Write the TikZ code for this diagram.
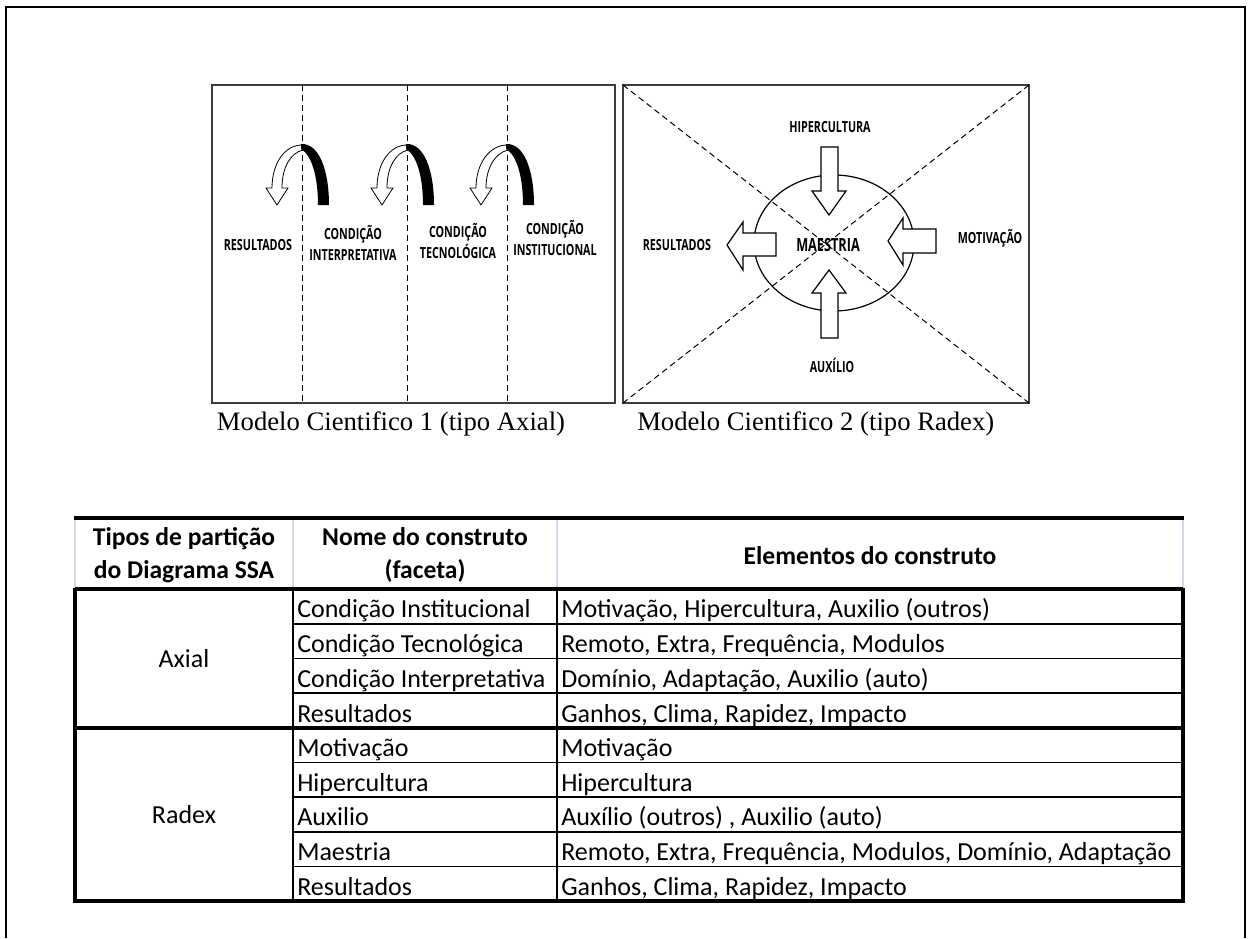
\documentclass[tikz,border=0pt]{standalone}
\usepackage{fontspec}
\setmainfont{Liberation Serif}
\newfontfamily\tabfont{Carlito}
\newfontfamily\diafont{Open Sans}
\begin{document}
\begin{tikzpicture}[x=0.75pt,y=0.75pt,yscale=-1,xscale=1,
    lbl/.style={font=\diafont\bfseries\fontsize{11.5}{16.3}\selectfont, align=center, inner sep=0pt, xscale=0.7},
    legenda/.style={font=\fontsize{20}{24}\selectfont, inner sep=0pt},
    cell/.style={font=\tabfont\fontsize{19.5}{23}\selectfont, anchor=base west, inner sep=0pt},
    hcell/.style={font=\tabfont\bfseries\fontsize{19.2}{24.6}\selectfont, align=center, inner sep=0pt},
    blockarrow/.style={draw, fill=white, line width=0.9pt, line join=miter},
    sep/.style={dash pattern=on 4.5pt off 3pt, line width=0.75pt},
    thickrule/.style={line width=2.4pt},
    thinrule/.style={line width=1.2pt}]
        \useasboundingbox (0,0) rectangle (1248,938);

        %Frame
        \draw [line width=1.5pt]  (6,938) -- (6,7) -- (1245,7) -- (1245,938) ;

        %Shape: Rectangle - modelo axial
        \draw [color={rgb, 255:red, 60; green, 60; blue, 60 }, line width=1.2pt]  (212,85) rectangle (615,403) ;
        %Straight Lines - particoes
        \draw [sep]  (302,85) -- (302,403) ;
        \draw [sep]  (407,85) -- (407,403) ;
        \draw [sep]  (507,85) -- (507,403) ;

        %Curved Arrow 1
        \draw [fill=white, line width=0.6pt]  (302,145) .. controls (285,145) and (272,163) .. (272,188) -- (266,188) -- (277,205) -- (288,188) -- (282,188) .. controls (282,168) and (290,153) .. (303,150) -- cycle ;
        \fill  (301,144) .. controls (319,143) and (329,170) .. (329,205) -- (318,205) .. controls (318,180) and (313,156) .. (301,149) -- cycle ;
        %Curved Arrow 2
        \draw [fill=white, line width=0.6pt]  (407,145) .. controls (390,145) and (377,163) .. (377,188) -- (371,188) -- (382,205) -- (393,188) -- (387,188) .. controls (387,168) and (395,153) .. (408,150) -- cycle ;
        \fill  (406,144) .. controls (424,143) and (434,170) .. (434,205) -- (423,205) .. controls (423,180) and (418,156) .. (406,149) -- cycle ;
        %Curved Arrow 3
        \draw [fill=white, line width=0.6pt]  (507,145) .. controls (490,145) and (476,163) .. (476,188) -- (470,188) -- (481,205) -- (492,188) -- (486,188) .. controls (486,168) and (495,153) .. (508,150) -- cycle ;
        \fill  (506,144) .. controls (524,143) and (534,170) .. (534,205) -- (523,205) .. controls (523,180) and (518,156) .. (506,149) -- cycle ;

        % Text Node
        \draw (258,245) node (resAxial) [lbl] {RESULTADOS};
        % Text Node
        \draw (353,243) node (condInterp) [lbl] {CONDIÇÃO\\INTERPRETATIVA};
        % Text Node
        \draw (458,241) node (condTecno) [lbl] {CONDIÇÃO\\TECNOLÓGICA};
        % Text Node
        \draw (555,238) node (condInst) [lbl] {CONDIÇÃO\\INSTITUCIONAL};

        %Shape: Rectangle - modelo radex
        \draw [color={rgb, 255:red, 60; green, 60; blue, 60 }, line width=1.2pt]  (623,85) rectangle (1029,403) ;
        %Straight Lines - diagonais
        \draw [sep]  (623,85) -- (1029,403) ;
        \draw [sep]  (1029,85) -- (623,403) ;
        %Shape: Ellipse
        \draw [line width=0.9pt]  (834,243) ellipse (80 and 68) ;

        %Shape: Down Arrow
        \draw [blockarrow]  (821,147) -- (838,147) -- (838,191) -- (846,191) -- (829,215) -- (812,191) -- (821,191) -- cycle ;
        %Shape: Up Arrow
        \draw [blockarrow]  (821,338) -- (838,338) -- (838,293) -- (846,293) -- (829,270) -- (812,293) -- (821,293) -- cycle ;
        %Shape: Left Arrow - resultados
        \draw [blockarrow]  (776,233) -- (776,256) -- (743,256) -- (743,270) -- (727,245) -- (743,222) -- (743,233) -- cycle ;
        %Shape: Left Arrow - motivacao
        \draw [blockarrow]  (936,229) -- (936,253) -- (903,253) -- (903,265) -- (888,241) -- (903,218) -- (903,229) -- cycle ;

        % Text Node
        \draw (830,127) node (hiper) [lbl] {HIPERCULTURA};
        % Text Node
        \draw (677,245) node (resRadex) [lbl] {RESULTADOS};
        % Text Node
        \draw (828,245) node (maestria) [lbl, font=\diafont\bfseries\fontsize{13.6}{16}\selectfont, xscale=1.0] {MAESTRIA};
        % Text Node
        \draw (990,238) node (motiv) [lbl] {MOTIVAÇÃO};
        % Text Node
        \draw (832,365) node (auxilio) [lbl] {AUXÍLIO};

        % Text Node
        \draw (391,424) node (legAxial) [legenda] {Modelo Cientifico 1 (tipo Axial)};
        % Text Node
        \draw (637,424) node (legRadex) [legenda, anchor=west] {Modelo Cientifico 2 (tipo Radex)};

        %Table - header grid
        \draw [color={rgb, 255:red, 208; green, 215; blue, 229 }, line width=1pt]  (75,518) -- (75,589) (293,518) -- (293,589) (557,518) -- (557,589) (1183,518) -- (1183,589) ;
        %Table - rules
        \draw [thickrule]  (73.8,518) -- (1184.2,518) ;
        \draw [thickrule]  (75,589) -- (1183,589) ;
        \draw [thickrule]  (75,728) -- (1183,728) ;
        \draw [thickrule]  (75,588) -- (75,901) -- (1183,901) -- (1183,588) ;
        \draw [thinrule]  (293,589) -- (293,901) (557,589) -- (557,901) ;
        \draw [thinrule]  (293,623.75) -- (1183,623.75) (293,658.5) -- (1183,658.5) (293,693.25) -- (1183,693.25) ;
        \draw [thinrule]  (293,762.6) -- (1183,762.6) (293,797.2) -- (1183,797.2) (293,831.8) -- (1183,831.8) (293,866.4) -- (1183,866.4) ;

        % Text Node
        \draw (184,555) node (tipos) [hcell] {Tipos de partição\\do Diagrama SSA};
        % Text Node
        \draw (425,555) node (nome) [hcell] {Nome do construto\\(faceta)};
        % Text Node
        \draw (870,556) node (elementos) [hcell] {Elementos do construto};

        % Text Node
        \draw (184,659) node (axial) [cell, anchor=center] {Axial};
        \draw (297,617.7) node (cInst) [cell] {Condição Institucional};
        \draw (561,617.7) node (eInst) [cell] {Motivação, Hipercultura, Auxilio (outros)};
        \draw (297,652.5) node (cTec) [cell] {Condição Tecnológica};
        \draw (561,652.5) node (eTec) [cell] {Remoto, Extra, Frequência, Modulos};
        \draw (297,687.2) node (cInt) [cell] {Condição Interpretativa};
        \draw (561,687.2) node (eInt) [cell] {Domínio, Adaptação, Auxilio (auto)};
        \draw (297,722) node (cRes) [cell] {Resultados};
        \draw (561,722) node (eRes) [cell] {Ganhos, Clima, Rapidez, Impacto};

        % Text Node
        \draw (184,815) node (radex) [cell, anchor=center] {Radex};
        \draw (297,756.7) node (rMot) [cell] {Motivação};
        \draw (561,756.7) node (eMot) [cell] {Motivação};
        \draw (297,791.3) node (rHip) [cell] {Hipercultura};
        \draw (561,791.3) node (eHip) [cell] {Hipercultura};
        \draw (297,825.9) node (rAux) [cell] {Auxilio};
        \draw (561,825.9) node (eAux) [cell] {Auxílio (outros) , Auxilio (auto)};
        \draw (297,860.5) node (rMae) [cell] {Maestria};
        \draw (561,860.5) node (eMae) [cell] {Remoto, Extra, Frequência, Modulos, Domínio, Adaptação};
        \draw (297,895.1) node (rRes) [cell] {Resultados};
        \draw (561,895.1) node (eRes2) [cell] {Ganhos, Clima, Rapidez, Impacto};

\end{tikzpicture}
\end{document}
